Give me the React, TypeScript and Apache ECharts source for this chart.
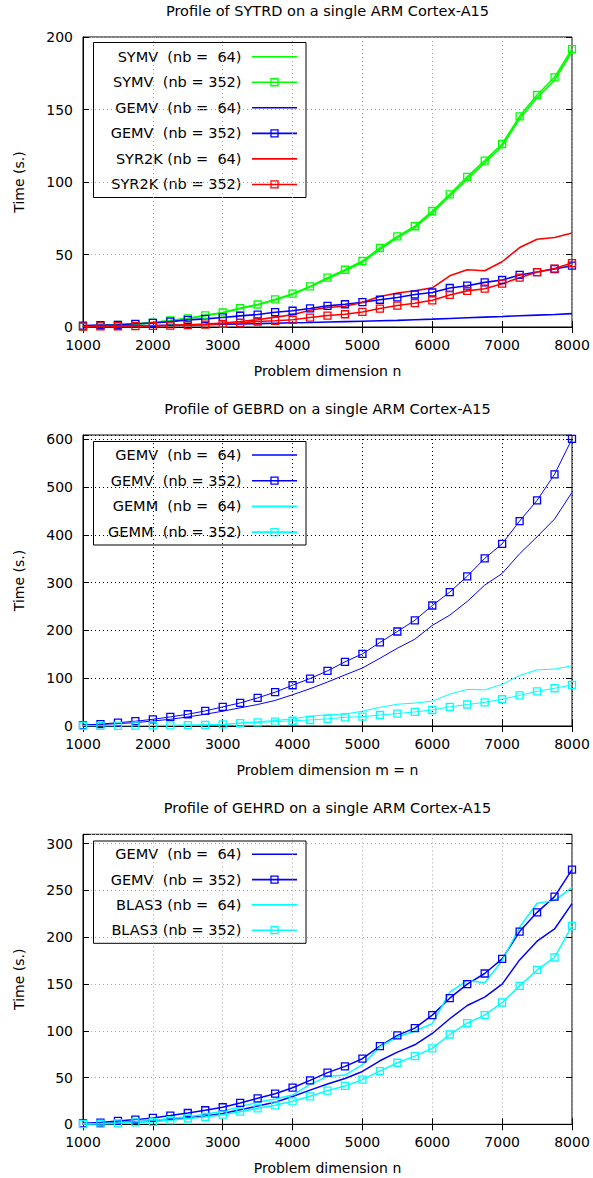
import React, { useEffect, useRef } from "react";
import * as echarts from "echarts";

// ---------- data ----------
const nValues = [1000, 1250, 1500, 1750, 2000, 2250, 2500, 2750, 3000, 3250, 3500, 3750, 4000, 4250, 4500, 4750, 5000, 5250, 5500, 5750, 6000, 6250, 6500, 6750, 7000, 7250, 7500, 7750, 8000];

// Panel 1: SYTRD
const sytrdTitle = "Profile of SYTRD on a single ARM Cortex-A15";
const sytrdXName = "Problem dimension n";
const sytrdNames = ["SYMV  (nb =  64)", "SYMV  (nb = 352)", "GEMV  (nb =  64)", "GEMV  (nb = 352)", "SYR2K (nb =  64)", "SYR2K (nb = 352)"];
const sytrdSymv64 = [0.5, 1, 1.5, 2, 3, 4.4, 5.9, 7.8, 9.8, 12.7, 15.2, 18.6, 22.5, 27.5, 33.3, 38.8, 44.6, 53.5, 61.5, 68.5, 78.7, 90.2, 102, 113.2, 124.7, 143.5, 158.3, 170.2, 189.8];
const sytrdSymv352 = [0.5, 1, 1.5, 2, 3, 4.5, 6, 8, 10, 13, 15.5, 19, 23, 28, 34, 39.5, 45.5, 54.5, 62.5, 69.5, 80, 91.5, 103.5, 114.7, 126.2, 145.3, 160, 172.2, 191.7];
const sytrdGemv64 = [0.3, 0.4, 0.6, 0.8, 1.0, 1.2, 1.4, 1.6, 1.9, 2.1, 2.3, 2.6, 2.9, 3.1, 3.4, 3.7, 4.0, 4.3, 4.6, 5.0, 5.4, 5.9, 6.4, 6.8, 7.2, 7.8, 8.2, 8.6, 9.2];
const sytrdGemv352 = [1, 1.3, 1.5, 2.2, 2.8, 3.7, 4.9, 5.6, 6.6, 7.7, 8.6, 10.2, 11.2, 12.8, 14.6, 15.7, 17.1, 18.8, 20.4, 22.4, 23.8, 26.9, 28.5, 30.8, 32.4, 35.9, 37.9, 40, 42.3];
const sytrdSyr2k64 = [0.2, 0.3, 0.4, 0.6, 0.9, 1.2, 1.6, 2.1, 2.8, 3.8, 5.0, 6.8, 8.5, 11.5, 13.5, 14.3, 17, 21, 23.5, 25, 27, 35.3, 39.5, 38.8, 45, 54.8, 60.5, 61.7, 64.8];
const sytrdSyr2k352 = [0.3, 0.4, 0.5, 0.6, 0.8, 1.0, 1.3, 1.7, 2.2, 2.9, 3.8, 4.3, 5, 6.5, 7.9, 8.8, 10.4, 12.7, 14.8, 16.4, 18.4, 22.1, 24.9, 26.4, 29.9, 34, 37.9, 40.3, 44.1];

// Panel 2: GEBRD
const gebrdTitle = "Profile of GEBRD on a single ARM Cortex-A15";
const gebrdXName = "Problem dimension m = n";
const gebrdNames = ["GEMV  (nb =  64)", "GEMV  (nb = 352)", "GEMM  (nb =  64)", "GEMM  (nb = 352)"];
const gebrdGemv64 = [2, 3, 5, 7, 10.5, 14, 19, 24.6, 31, 38, 45, 53.5, 65.4, 78, 92, 106.8, 121.4, 141.7, 162.7, 181.6, 210.5, 232, 260.6, 294.8, 319.2, 360.4, 396, 433, 489];
const gebrdGemv352 = [2, 4, 7, 10, 14, 19, 24.6, 31.6, 40, 48.3, 58.8, 70.7, 85.3, 99.3, 115.4, 134.2, 151, 174.8, 197.8, 221.2, 252.2, 280.2, 313.3, 350.7, 381.3, 428.9, 472.2, 526.7, 600.7];
const gebrdGemm64 = [0.5, 0.5, 0.6, 0.8, 1, 1.3, 1.7, 2.2, 3, 6, 9, 11.4, 15, 20.6, 23.5, 25, 31, 39, 45.5, 48, 52, 66.8, 76.5, 75.7, 87, 105.7, 117.5, 119, 126];
const gebrdGemm352 = [0.5, 0.3, 0.4, 0.7, 1, 1.5, 2, 2.5, 3.5, 6, 7.5, 9, 11, 12.6, 15, 18, 19.5, 23, 26, 29.5, 33.5, 40, 45, 49.5, 56, 64, 72.5, 79, 86];

// Panel 3: GEHRD
const gehrdTitle = "Profile of GEHRD on a single ARM Cortex-A15";
const gehrdXName = "Problem dimension n";
const gehrdNames = ["GEMV  (nb =  64)", "GEMV  (nb = 352)", "BLAS3 (nb =  64)", "BLAS3 (nb = 352)"];
const gehrdGemv64 = [0.5, 0.9, 1.6, 2.6, 3.8, 5.3, 7, 9, 11.5, 15.5, 19.5, 23.5, 29.8, 36.5, 43, 49, 56.5, 67.9, 77.2, 85, 97.1, 112.8, 127, 135.9, 149.8, 175.7, 195.7, 208.8, 235.9];
const gehrdGemv352 = [1, 1.8, 3.6, 5, 6.8, 9.3, 12.1, 15, 18.2, 22.8, 27.8, 32.7, 39.1, 47, 55.2, 61.9, 70.1, 83.6, 95, 102.8, 116.7, 134.8, 149.8, 161.2, 176.8, 206, 226.6, 243.4, 272.2];
const gehrdBlas64 = [0.5, 0.8, 1.5, 2.5, 4.1, 6.2, 8.2, 10.7, 14, 18.9, 23.5, 27, 31.3, 42.7, 51.2, 52.6, 63.7, 83, 93.3, 99.7, 107.5, 141.2, 153.7, 151.2, 175.1, 210.6, 236.3, 239.1, 253.3];
const gehrdBlas352 = [0.2, 0.5, 0.9, 2, 2.6, 4.4, 6.2, 7.8, 10.3, 13.5, 17.1, 20.3, 24.6, 29.9, 36, 41, 47.8, 56.9, 65.8, 72.9, 81.1, 96, 108.1, 116.7, 130.2, 148, 165, 178.3, 212];

const yName = "Time (s.)";

// ---------- styling / layout ----------
const FONT = '"DejaVu Sans", sans-serif';
const FS = 14;
const GREEN = "#00ff00";
const BLUE = "#0000ff";
const RED = "#ff0000";
const CYAN = "#00ffff";

const PLOT_LEFT = 83;
const PLOT_WIDTH = 489;

const panels = [
  { top: 37, height: 290, yMax: 200, yInterval: 50, grid: "#a8a8a8", lw: 1.6, title: sytrdTitle, xName: sytrdXName, titleY: 12.5 },
  { top: 435, height: 291, yMax: 609, yInterval: 100, grid: "#000000", lw: 1, title: gebrdTitle, xName: gebrdXName, titleY: 410 },
  { top: 834.3, height: 290, yMax: 310, yInterval: 50, grid: "#a8a8a8", lw: 1.5, title: gehrdTitle, xName: gehrdXName, titleY: 809 },
];

const pairs = (ys: number[]) => nValues.map((x, i) => [x, ys[i]]);

function mkSeries(panel: number, name: string, ys: number[], color: string, marks: boolean) {
  const lw = panels[panel].lw;
  return {
    type: "line",
    name,
    xAxisIndex: panel * 2,
    yAxisIndex: panel * 2,
    data: pairs(ys),
    symbol: marks ? "rect" : "none",
    symbolSize: 7,
    showSymbol: marks,
    lineStyle: { color, width: lw },
    itemStyle: { color: "rgba(0,0,0,0)", borderColor: color, borderWidth: 1.3 },
    emphasis: { disabled: true },
  };
}

function legendGraphic(names: string[], colors: string[], boxY: number, boxH: number, firstY: number, step: number) {
  const children: any[] = [
    {
      type: "rect",
      shape: { x: 93.5, y: boxY, width: 212.5, height: boxH },
      style: { fill: "#fff", stroke: "#000", lineWidth: 1 },
    },
  ];
  names.forEach((nm, i) => {
    const y = firstY + i * step;
    children.push({
      type: "text",
      x: 241.5,
      y,
      style: { text: nm, align: "right", verticalAlign: "middle", font: `14.5px ${FONT}`, fill: "#000" },
    });
    children.push({
      type: "line",
      shape: { x1: 252, y1: y, x2: 297, y2: y },
      style: { stroke: colors[i], lineWidth: 1.6 },
    });
    if (i % 2 === 1) {
      children.push({
        type: "rect",
        shape: { x: 271, y: y - 3.5, width: 7, height: 7 },
        style: { fill: "none", stroke: colors[i], lineWidth: 1.3 },
      });
    }
  });
  return { type: "group", z: 100, children };
}

function buildOption() {
  const grids: any[] = [];
  const xAxes: any[] = [];
  const yAxes: any[] = [];
  const titles: any[] = [];
  panels.forEach((p, i) => {
    grids.push({
      left: PLOT_LEFT,
      width: PLOT_WIDTH,
      top: p.top,
      height: p.height,
      show: true,
      borderColor: "#000",
      borderWidth: 1,
      backgroundColor: "transparent",
    });
    titles.push({
      text: p.title,
      left: PLOT_LEFT + PLOT_WIDTH / 2,
      textAlign: "center",
      top: p.titleY - 9,
      padding: 0,
      textStyle: { fontFamily: FONT, fontSize: 14.5, fontWeight: "normal", color: "#000" },
    });
    const split = { show: true, lineStyle: { color: p.grid, type: [1, 3], width: 1 } };
    xAxes.push({
      type: "value",
      gridIndex: i,
      min: 1000,
      max: 8000,
      interval: 1000,
      position: "bottom",
      name: p.xName,
      nameLocation: "middle",
      nameGap: 37,
      nameTextStyle: { fontFamily: FONT, fontSize: FS, color: "#000" },
      axisLine: { show: true, lineStyle: { color: "#000", width: 1 } },
      axisTick: { show: true, inside: true, length: 6, lineStyle: { color: "#000" } },
      axisLabel: { show: true, margin: 11, fontFamily: FONT, fontSize: FS, color: "#000", formatter: (v: number) => String(v) },
      splitLine: split,
    });
    xAxes.push({
      type: "value",
      gridIndex: i,
      min: 1000,
      max: 8000,
      interval: 1000,
      position: "top",
      axisLine: { show: false },
      axisTick: { show: true, inside: true, length: 6, lineStyle: { color: "#000" } },
      axisLabel: { show: false },
      splitLine: { show: false },
    });
    const yFmt = (v: number) => (v % p.yInterval === 0 ? String(v) : "");
    yAxes.push({
      type: "value",
      gridIndex: i,
      min: 0,
      max: p.yMax,
      interval: p.yInterval,
      position: "left",
      name: yName,
      nameLocation: "middle",
      nameRotate: 90,
      nameGap: 57,
      nameTextStyle: { fontFamily: FONT, fontSize: FS, color: "#000" },
      axisLine: { show: true, lineStyle: { color: "#000", width: 1 } },
      axisTick: { show: true, inside: true, length: 6, lineStyle: { color: "#000" } },
      axisLabel: { show: true, margin: 10, fontFamily: FONT, fontSize: FS, color: "#000", formatter: yFmt },
      splitLine: split,
    });
    yAxes.push({
      type: "value",
      gridIndex: i,
      min: 0,
      max: p.yMax,
      interval: p.yInterval,
      position: "right",
      axisLine: { show: false },
      axisTick: { show: true, inside: true, length: 6, lineStyle: { color: "#000" } },
      axisLabel: { show: false },
      splitLine: { show: false },
    });
  });

  const series = [
    mkSeries(0, sytrdNames[0], sytrdSymv64, GREEN, false),
    mkSeries(0, sytrdNames[1], sytrdSymv352, GREEN, true),
    mkSeries(0, sytrdNames[2], sytrdGemv64, BLUE, false),
    mkSeries(0, sytrdNames[3], sytrdGemv352, BLUE, true),
    mkSeries(0, sytrdNames[4], sytrdSyr2k64, RED, false),
    mkSeries(0, sytrdNames[5], sytrdSyr2k352, RED, true),
    mkSeries(1, gebrdNames[0], gebrdGemv64, BLUE, false),
    mkSeries(1, gebrdNames[1], gebrdGemv352, BLUE, true),
    mkSeries(1, gebrdNames[2], gebrdGemm64, CYAN, false),
    mkSeries(1, gebrdNames[3], gebrdGemm352, CYAN, true),
    mkSeries(2, gehrdNames[0], gehrdGemv64, BLUE, false),
    mkSeries(2, gehrdNames[1], gehrdGemv352, BLUE, true),
    mkSeries(2, gehrdNames[2], gehrdBlas64, CYAN, false),
    mkSeries(2, gehrdNames[3], gehrdBlas352, CYAN, true),
  ];

  const graphic = [
    legendGraphic(sytrdNames, [GREEN, GREEN, BLUE, BLUE, RED, RED], 42.5, 155, 56.7, 25.55),
    legendGraphic(gebrdNames, [BLUE, BLUE, CYAN, CYAN], 441.5, 103.5, 455, 25.7),
    legendGraphic(gehrdNames, [BLUE, BLUE, CYAN, CYAN], 841, 102.3, 854.3, 25.3),
  ];

  return {
    animation: false,
    backgroundColor: "#ffffff",
    textStyle: { fontFamily: FONT },
    title: titles,
    grid: grids,
    xAxis: xAxes,
    yAxis: yAxes,
    series,
    graphic,
  };
}

export default function App() {
  const ref = useRef<HTMLDivElement>(null);
  useEffect(() => {
    if (!ref.current) return;
    const chart = echarts.init(ref.current, undefined, { renderer: "svg" });
    chart.setOption(buildOption() as any);
    return () => chart.dispose();
  }, []);
  return (
    <div
      ref={ref}
      style={{ position: "fixed", left: 0, top: 0, width: 593, height: 1178, background: "#fff" }}
    />
  );
}
